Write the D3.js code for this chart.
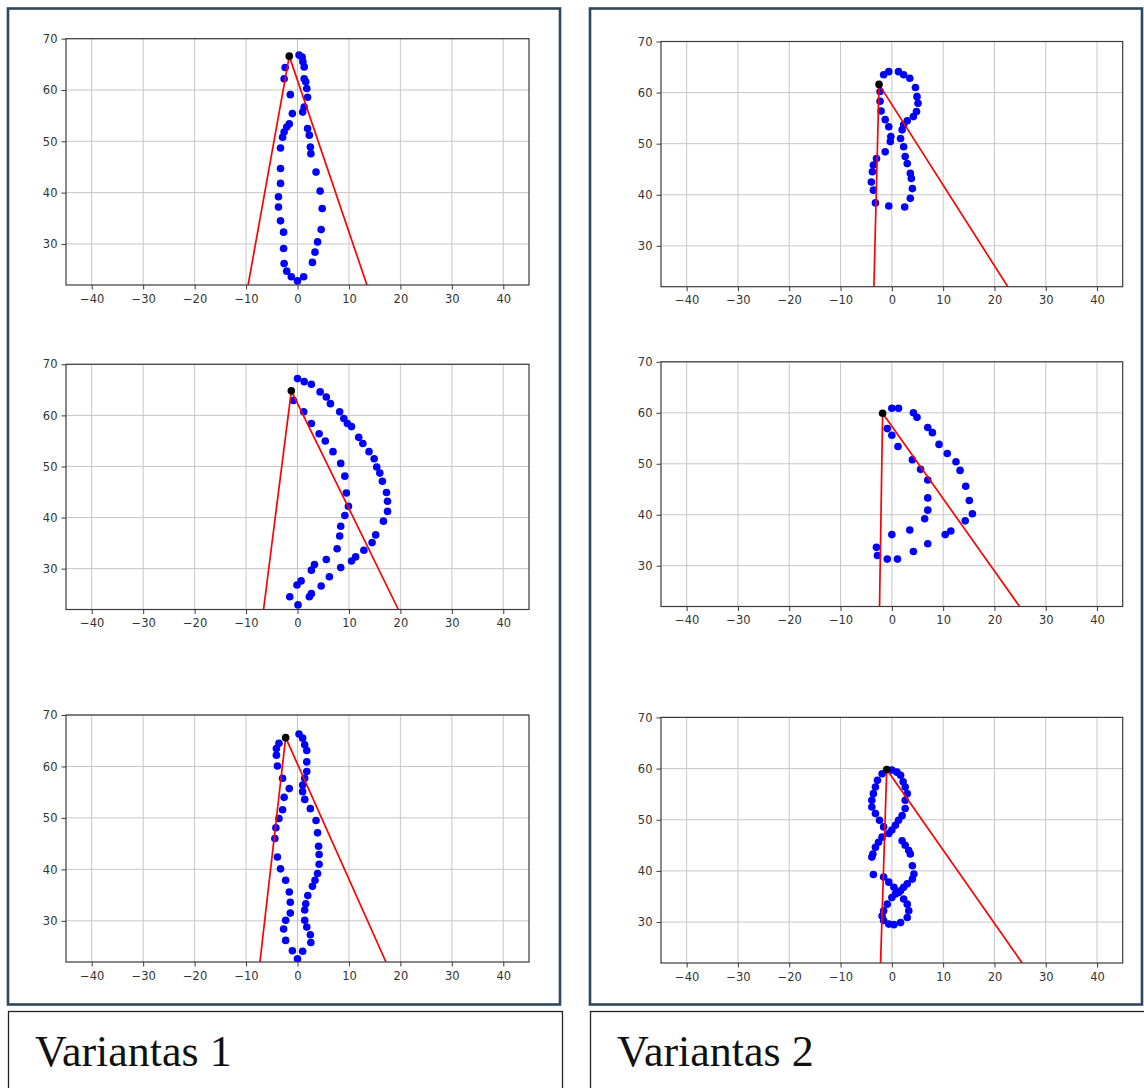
<!DOCTYPE html>
<html>
<head>
<meta charset="utf-8">
<script src="https://cdn.jsdelivr.net/npm/d3@7"></script>
<style>
  body { margin: 0; background: #fff; }
  svg { display: block; }
</style>
</head>
<body>
<svg id="fig" width="1144" height="1088"></svg>
<script>
// Axis ticks and limits shared by every subplot
const xTicks = [-40, -30, -20, -10, 0, 10, 20, 30, 40];
const yTicks = [30, 40, 50, 60, 70];
const xDomain = [-45, 45];
const yDomain = [22, 70];

// Variantas 1 — tracked points, top / middle / bottom
const v1TopPts = [
  [0.3,66.8],[0.9,66.4],[1.05,65.5],[1.3,64.5],[-2.4,64.4],[-2.6,62.2],[-1.4,59.1],
  [1.3,62.2],[1.6,61.6],[1.8,60.3],[1.96,58.6],[1.3,56.7],[1.0,55.7],[-1.0,55.4],
  [-1.6,53.4],[-2.1,52.8],[-2.6,51.8],[-2.9,50.8],[-3.3,48.7],[1.96,52.5],[2.3,51.2],
  [2.5,48.9],[2.6,47.6],[3.6,44.0],[4.4,40.3],[4.8,36.9],[4.6,32.8],[3.9,30.4],
  [3.4,28.4],[2.9,26.4],[-3.3,44.7],[-3.3,41.8],[-3.7,39.2],[-3.7,37.2],[-3.3,34.5],
  [-2.7,32.3],[-2.7,29.1],[-2.6,26.2],[-2.1,24.7],[-1.2,23.6],[0,22.8],[1.2,23.6]
];
const v1MidPts = [
  [0,67.2],[1.3,66.6],[2.7,66.1],[4.4,64.6],[5.6,63.6],[6.4,62.3],[8.2,60.7],[9.0,59.4],
  [9.7,58.4],[10.5,57.8],[11.9,55.7],[12.7,54.5],[13.9,52.9],[14.9,51.5],[15.4,49.9],
  [16.0,48.7],[16.5,47.1],[17.3,44.9],[17.5,43.2],[17.5,41.2],[16.7,39.3],[15.2,36.6],
  [14.5,35.1],[12.9,33.6],[11.3,32.3],[10.5,31.5],[8.4,30.2],[6.2,28.4],[4.6,26.6],
  [2.7,25.1],[2.3,24.5],[0.1,22.9],[-1.5,24.5],
  [-0.8,62.9],[1.2,60.7],[2.7,58.4],[4.2,56.4],[5.4,55.0],[6.9,52.9],[8.4,50.6],
  [9.2,48.1],[9.5,44.8],[9.9,42.2],[9.2,40.4],[8.4,38.3],[8.2,36.4],[7.7,33.9],
  [5.6,31.8],[3.3,30.8],[2.7,29.7],[0.7,27.6],[-0.1,26.8]
];
const v1BotPts = [
  [0.3,66.3],[1.0,65.5],[1.4,64.2],[1.8,63.1],[1.8,60.9],[1.8,59.0],[1.4,57.7],
  [1.0,56.4],[1.0,55.1],[1.4,53.6],[2.5,51.8],[3.6,49.5],[3.9,47.1],[4.1,44.5],
  [4.2,42.9],[4.2,41.0],[3.9,39.2],[3.4,37.9],[2.9,36.7],[2.0,34.9],[1.6,33.3],
  [1.4,32.1],[1.4,30.1],[1.8,28.8],[2.5,27.3],[2.6,25.8],[1.0,24.1],[0,22.6],
  [-3.6,64.5],[-4.1,63.5],[-4.1,62.2],[-3.9,60.1],[-2.9,57.7],[-1.6,55.7],[-2.6,54.0],
  [-2.9,51.6],[-3.6,49.9],[-4.2,48.1],[-4.4,46.0],[-3.9,42.4],[-3.3,40.1],[-2.3,37.9],
  [-1.6,35.6],[-1.4,33.6],[-1.4,31.5],[-2.3,30.1],[-2.7,28.4],[-2.3,26.2],[-1.0,24.2]
];

// Variantas 2 — tracked points, top / middle / bottom
const v2TopPts = [
  [-1.6,63.5],[-0.6,64.1],[1.3,64.1],[2.3,63.5],[3.5,62.8],[4.6,61.0],[4.9,59.2],
  [5.1,57.9],[4.8,56.3],[4.2,55.3],[3.0,54.5],[2.3,53.7],[2.0,52.7],[1.7,51.0],
  [2.3,49.4],[2.6,47.5],[3.0,46.1],[3.6,44.2],[3.8,43.2],[4.0,41.2],[3.6,39.3],[2.5,37.6],
  [-2.3,60.2],[-2.3,58.3],[-2.1,56.4],[-1.3,54.7],[-0.6,53.3],[-0.2,51.4],[-0.3,50.4],
  [-1.3,48.4],[-3.0,47.1],[-3.6,45.8],[-3.8,44.5],[-4.0,42.5],[-3.6,40.9],[-3.2,38.4],
  [-0.6,37.8]
];
const v2MidPts = [
  [0.0,60.9],[1.3,60.9],[4.2,60.0],[4.9,59.1],[7.0,57.1],[7.9,56.1],[9.2,53.8],
  [10.8,52.0],[12.5,50.4],[13.3,48.7],[14.4,45.6],[15.1,42.8],[15.7,40.2],[14.3,38.8],
  [11.5,36.8],[10.4,36.1],[7.0,34.3],[4.2,32.8],[1.1,31.3],[-0.9,31.3],[-3.0,33.6],
  [-2.8,32.0],
  [-0.9,56.9],[0.0,55.6],[1.2,53.4],[4.0,50.8],[5.6,48.9],[7.0,46.8],[7.0,43.3],
  [7.0,40.9],[6.4,39.2],[3.5,37.0],[0.0,36.1]
];
const v2BotPts = [
  [0.0,59.7],[1.0,59.3],[1.7,58.7],[2.2,57.4],[2.6,56.4],[3.0,55.1],[2.6,53.8],
  [2.6,52.2],[2.0,50.8],[1.3,49.9],[0.7,48.9],[0.0,48.0],[-0.6,47.3],
  [-1.9,59.0],[-2.8,57.7],[-3.2,56.4],[-3.6,55.1],[-3.9,53.8],[-3.9,52.5],[-3.2,51.2],
  [-2.4,49.9],[-1.6,48.6],[-1.9,46.6],[-2.6,45.6],[-3.2,44.6],[-3.7,43.3],[-3.9,42.7],
  [2.0,45.9],[2.6,45.0],[3.3,44.0],[3.6,43.3],[4.0,41.0],[4.3,39.4],[4.0,38.4],
  [3.0,37.5],[2.3,36.8],[1.7,36.1],[0.7,35.5],[0.0,34.8],[-0.9,33.5],[-1.6,32.2],
  [-1.9,31.2],[-1.6,30.3],[-0.6,29.6],[0.4,29.5],[1.7,29.9],[3.0,30.9],[3.3,32.2],
  [3.0,33.5],[2.3,34.5],[1.3,35.8],[0.4,36.8],[-0.6,37.8],[-1.6,38.8],[-3.6,39.3]
];

// Apex (black point) of each subplot and where its two red rays meet y = 22
const apexV1 = [[-1.6, 66.6], [-1.2, 64.8], [-2.3, 65.6]];
const apexV2 = [[-2.5, 61.6], [-1.8, 59.9], [-1.0, 59.8]];
const raysV1 = [[-9.6, 13.5], [-6.6, 19.6], [-7.3, 17.2]];
const raysV2 = [[-3.5, 22.6], [-2.4, 24.9], [-2.2, 25.4]];

const captions = ["Variantas 1", "Variantas 2"];

// ---- layout -------------------------------------------------------------
const svg = d3.select("#fig");

const colLeft = [66, 529];
const colRight = [661, 1122.7];
const rowsLeft = [[38.7, 285], [364.3, 609.5], [715, 962]];
const rowsRight = [[41.5, 286.7], [361.8, 606.5], [717.4, 963]];

const subplots = [];
const v1Pts = [v1TopPts, v1MidPts, v1BotPts];
const v2Pts = [v2TopPts, v2MidPts, v2BotPts];
for (let i = 0; i < 3; i++) {
  subplots.push({ xr: colLeft, yr: rowsLeft[i], pts: v1Pts[i], apex: apexV1[i], rays: raysV1[i], id: "a" + i });
  subplots.push({ xr: colRight, yr: rowsRight[i], pts: v2Pts[i], apex: apexV2[i], rays: raysV2[i], id: "b" + i });
}

// panel frames and caption boxes
svg.append("rect").attr("x", 8).attr("y", 8.5).attr("width", 552).attr("height", 996)
  .attr("fill", "none").attr("stroke", "#2c475f").attr("stroke-width", 2.6);
svg.append("rect").attr("x", 590).attr("y", 8.5).attr("width", 552).attr("height", 996)
  .attr("fill", "none").attr("stroke", "#2c475f").attr("stroke-width", 2.6);
svg.append("rect").attr("x", 8.5).attr("y", 1011.5).attr("width", 554).attr("height", 90)
  .attr("fill", "none").attr("stroke", "#222").attr("stroke-width", 1.3);
svg.append("rect").attr("x", 590.5).attr("y", 1011.5).attr("width", 560).attr("height", 90)
  .attr("fill", "none").attr("stroke", "#222").attr("stroke-width", 1.3);

svg.selectAll("text.caption").data(captions).join("text")
  .attr("class", "caption")
  .attr("x", (d, i) => i === 0 ? 35 : 617)
  .attr("y", 1066)
  .attr("font-family", "'Liberation Serif', 'Times New Roman', serif")
  .attr("font-size", 44)
  .attr("fill", "#111")
  .text(d => d);

// ---- subplots -----------------------------------------------------------
subplots.forEach(sp => {
  const x = d3.scaleLinear().domain(xDomain).range(sp.xr);
  const y = d3.scaleLinear().domain(yDomain).range([sp.yr[1], sp.yr[0]]);
  const g = svg.append("g");

  g.append("clipPath").attr("id", "clip-" + sp.id)
    .append("rect").attr("x", sp.xr[0]).attr("y", sp.yr[0])
    .attr("width", sp.xr[1] - sp.xr[0]).attr("height", sp.yr[1] - sp.yr[0]);

  // grid
  g.append("g").selectAll("line").data(xTicks).join("line")
    .attr("x1", d => x(d)).attr("x2", d => x(d))
    .attr("y1", sp.yr[0]).attr("y2", sp.yr[1])
    .attr("stroke", "#c6c6c6").attr("stroke-width", 1);
  g.append("g").selectAll("line").data(yTicks).join("line")
    .attr("y1", d => y(d)).attr("y2", d => y(d))
    .attr("x1", sp.xr[0]).attr("x2", sp.xr[1])
    .attr("stroke", "#c6c6c6").attr("stroke-width", 1);

  const plot = g.append("g").attr("clip-path", `url(#clip-${sp.id})`);

  // tracked points
  plot.selectAll("circle.pt").data(sp.pts).join("circle")
    .attr("class", "pt")
    .attr("cx", d => x(d[0])).attr("cy", d => y(d[1]))
    .attr("r", 3.8).attr("fill", "#0000ff");

  // red rays from the apex down to the lower limit
  plot.selectAll("line.ray").data(sp.rays).join("line")
    .attr("class", "ray")
    .attr("x1", x(sp.apex[0])).attr("y1", y(sp.apex[1]))
    .attr("x2", d => x(d)).attr("y2", y(yDomain[0]))
    .attr("stroke", "#ff0000").attr("stroke-width", 1.7);

  // apex
  plot.append("circle")
    .attr("cx", x(sp.apex[0])).attr("cy", y(sp.apex[1]))
    .attr("r", 3.8).attr("fill", "#000");

  // frame
  g.append("rect").attr("x", sp.xr[0]).attr("y", sp.yr[0])
    .attr("width", sp.xr[1] - sp.xr[0]).attr("height", sp.yr[1] - sp.yr[0])
    .attr("fill", "none").attr("stroke", "#3a3a3a").attr("stroke-width", 1.2);

  // axes
  const xa = g.append("g").attr("transform", `translate(0,${sp.yr[1]})`)
    .call(d3.axisBottom(x).tickValues(xTicks).tickSize(4.5).tickPadding(5).tickFormat(d3.format("d")));
  const ya = g.append("g").attr("transform", `translate(${sp.xr[0]},0)`)
    .call(d3.axisLeft(y).tickValues(yTicks).tickSize(4.5).tickPadding(4).tickFormat(d3.format("d")));
  [xa, ya].forEach(a => {
    a.select(".domain").remove();
    a.selectAll(".tick line").attr("stroke", "#3a3a3a");
    a.selectAll(".tick text")
      .attr("font-family", "'DejaVu Sans', sans-serif")
      .attr("font-size", 11.5).attr("fill", "#333");
  });
});
</script>
</body>
</html>
